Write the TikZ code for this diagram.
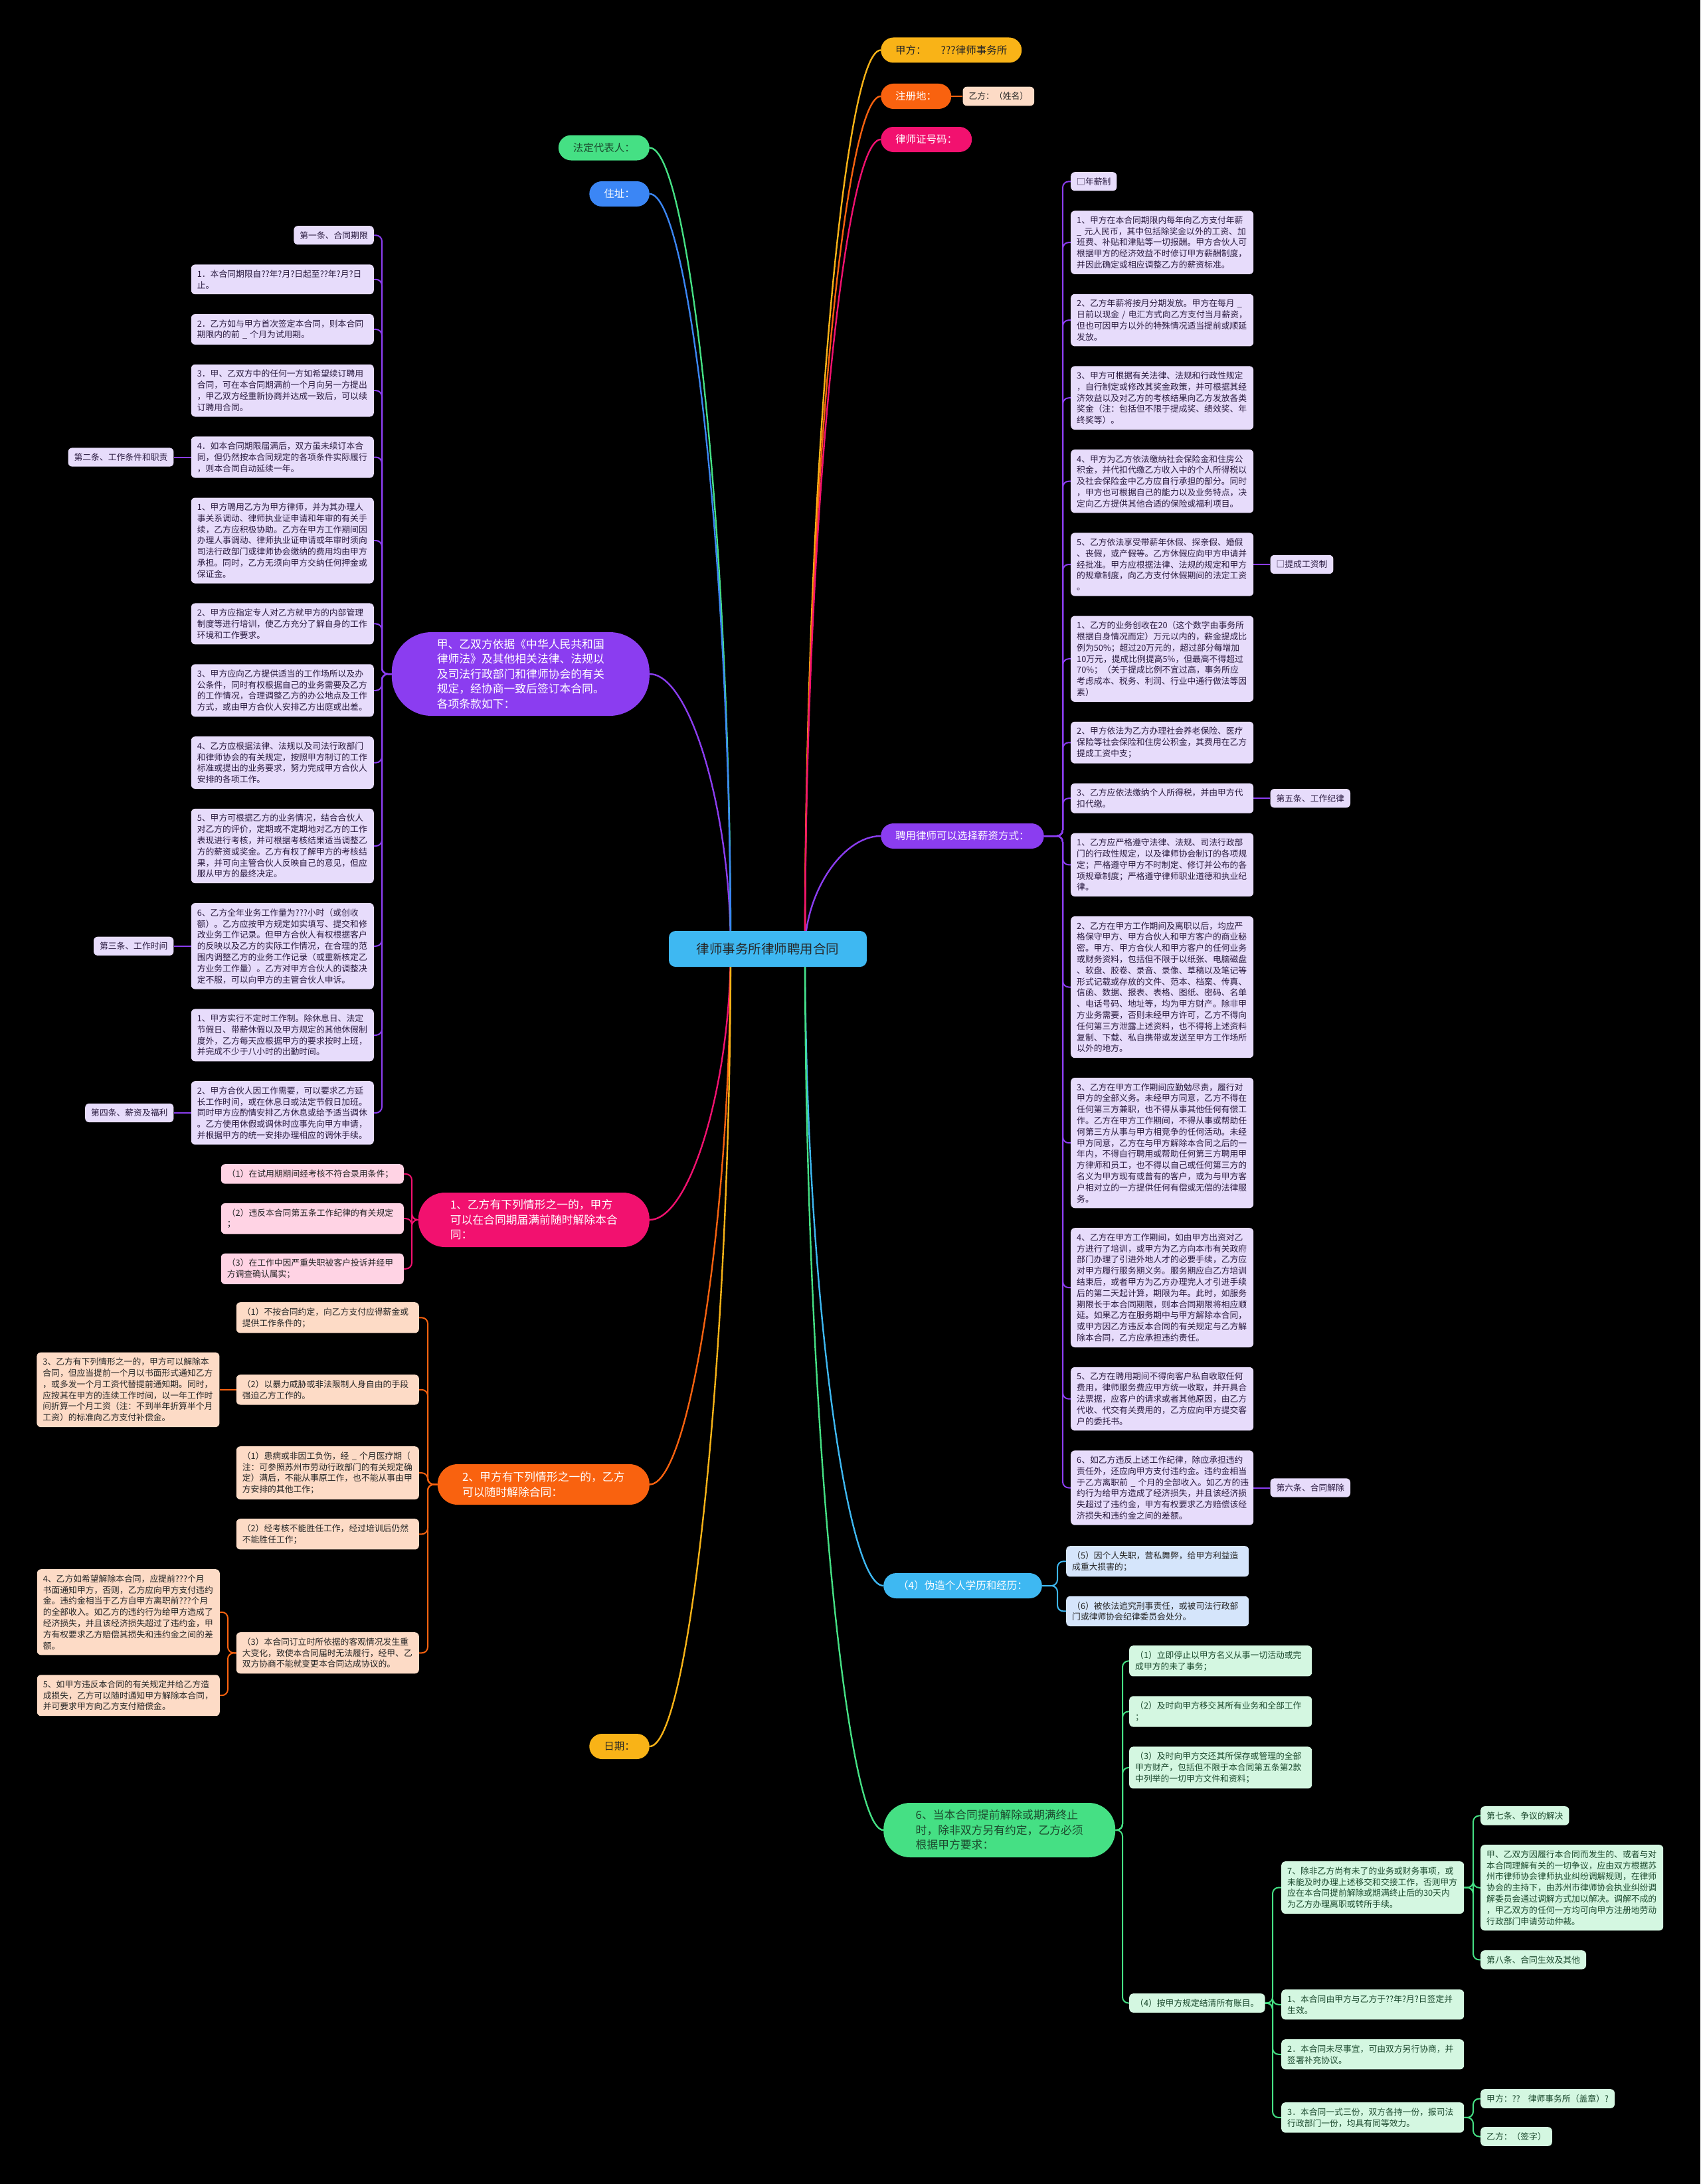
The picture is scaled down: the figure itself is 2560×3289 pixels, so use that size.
\documentclass[tikz,border=0pt]{standalone}
\usepackage{fontspec}
\setmainfont{Noto Sans CJK SC}
\usetikzlibrary{positioning,calc,backgrounds}
\definecolor{cpurple}{HTML}{8B3DF0}
\definecolor{plite}{HTML}{E7DCFB}
\definecolor{ptext}{HTML}{2A1B40}
\definecolor{cpink}{HTML}{F2116F}
\definecolor{pklite}{HTML}{FFD3E4}
\definecolor{corange}{HTML}{F9620F}
\definecolor{olite}{HTML}{FDDBC6}
\definecolor{cyellow}{HTML}{F9B317}
\definecolor{cgreen}{HTML}{45E084}
\definecolor{glite}{HTML}{D4F7E1}
\definecolor{gtext}{HTML}{1C4A2E}
\definecolor{cblue}{HTML}{3B86F5}
\definecolor{csky}{HTML}{3EB8F2}
\definecolor{blite}{HTML}{D5E5FB}
\definecolor{dtext}{HTML}{262626}

\begin{document}
\begin{tikzpicture}[
  x=1pt,y=-1pt,
  font=\fontsize{12.8}{16.8}\selectfont,
  box/.style={rounded corners=6pt,align=left,text width=257pt,inner xsep=9pt,inner ysep=8.2pt},
  short/.style={rounded corners=6pt,inner xsep=9pt,inner ysep=8.2pt},
  pbox/.style={box,fill=plite,text=ptext},
  ps/.style={short,fill=plite,text=ptext},
  kbox/.style={box,fill=pklite,text=dtext},
  obox/.style={box,fill=olite,text=dtext},
  os/.style={short,fill=olite,text=dtext},
  skybox/.style={box,fill=blite,text=dtext},
  gbox/.style={box,fill=glite,text=gtext},
  gs/.style={short,fill=glite,text=gtext},
  topic/.style={rounded corners=19pt,minimum height=38pt,inner xsep=22pt,font=\fontsize{15.5}{19}\selectfont},
  bigtopic/.style={align=left,font=\fontsize{16.8}{22.5}\selectfont},
  root/.style={fill=csky,text=dtext,rounded corners=10pt,minimum width=298pt,minimum height=54pt,font=\fontsize{19.5}{23}\selectfont},
  link/.style={line width=2.4pt},
  tree/.style={line width=2pt,rounded corners=9pt},
]
\useasboundingbox (0,0) rectangle (2560,3289);

% root and first level
\node[root] (root) at (1156,1429) {律师事务所律师聘用合同};
\node[topic,fill=cyellow,text=dtext,anchor=west] (firm) at (1326,75.5) {甲方：\hspace{22pt}???律师事务所};
\node[topic,fill=corange,text=white,anchor=west] (reg) at (1326,145) {注册地：};
\node[os,right=17pt of reg] (pname) {乙方：（姓名）};
\node[topic,fill=cpink,text=white,anchor=west] (lic) at (1326,210) {律师证号码：};
\node[topic,fill=cgreen,text=gtext,anchor=east] (legal) at (978,222.5) {法定代表人：};
\node[topic,fill=cblue,text=white,anchor=east] (addr) at (978,292) {住址：};
\node[topic,fill=cyellow,text=dtext,anchor=east] (date) at (978,2630) {日期：};
\node[topic,fill=cpurple,text=white,anchor=west] (rp) at (1326,1259) {聘用律师可以选择薪资方式：};
\node[topic,fill=csky,text=white,anchor=west] (bp) at (1330,2388) {（4）伪造个人学历和经历：};
\node[bigtopic,fill=cpurple,text=white,anchor=east,rounded corners=60pt,minimum width=388pt,minimum height=126pt] (lp) at (978,1015)
  {甲、乙双方依据《中华人民共和国\\律师法》及其他相关法律、法规以\\及司法行政部门和律师协会的有关\\规定，经协商一致后签订本合同。\\各项条款如下：};
\node[bigtopic,fill=cpink,text=white,anchor=east,rounded corners=40pt,minimum width=348pt,minimum height=82pt] (kp) at (978,1837)
  {1、乙方有下列情形之一的，甲方\\可以在合同期届满前随时解除本合\\同：};
\node[bigtopic,fill=corange,text=white,anchor=east,rounded corners=30pt,minimum width=319pt,minimum height=61pt] (ko) at (978,2235.5)
  {2、甲方有下列情形之一的，乙方\\可以随时解除合同：};
\node[bigtopic,fill=cgreen,text=gtext,anchor=west,rounded corners=40pt,minimum width=349pt,minimum height=82pt] (gp) at (1330,2756)
  {6、当本合同提前解除或期满终止\\时，除非双方另有约定，乙方必须\\根据甲方要求：};

% left purple column
\node[ps,anchor=north east] (p0) at (563,340) {第一条、合同期限};
\node[pbox,below=29.5pt of p0.south east,anchor=north east] (p1) {1．本合同期限自??年?月?日起至??年?月?日\\止。};
\node[pbox,below=29.5pt of p1.south east,anchor=north east] (p2) {2．乙方如与甲方首次签定本合同，则本合同\\期限内的前~\_~个月为试用期。};
\node[pbox,below=29.5pt of p2.south east,anchor=north east] (p3) {3．甲、乙双方中的任何一方如希望续订聘用\\合同，可在本合同期满前一个月向另一方提出\\，甲乙双方经重新协商并达成一致后，可以续\\订聘用合同。};
\node[pbox,below=29.5pt of p3.south east,anchor=north east] (p4) {4．如本合同期限届满后，双方虽未续订本合\\同，但仍然按本合同规定的各项条件实际履行\\，则本合同自动延续一年。};
\node[pbox,below=29.5pt of p4.south east,anchor=north east] (p5) {1、甲方聘用乙方为甲方律师，并为其办理人\\事关系调动、律师执业证申请和年审的有关手\\续，乙方应积极协助。乙方在甲方工作期间因\\办理人事调动、律师执业证申请或年审时须向\\司法行政部门或律师协会缴纳的费用均由甲方\\承担。同时，乙方无须向甲方交纳任何押金或\\保证金。};
\node[pbox,below=29.5pt of p5.south east,anchor=north east] (p6) {2、甲方应指定专人对乙方就甲方的内部管理\\制度等进行培训，使乙方充分了解自身的工作\\环境和工作要求。};
\node[pbox,below=29.5pt of p6.south east,anchor=north east] (p7) {3、甲方应向乙方提供适当的工作场所以及办\\公条件，同时有权根据自己的业务需要及乙方\\的工作情况，合理调整乙方的办公地点及工作\\方式，或由甲方合伙人安排乙方出庭或出差。};
\node[pbox,below=29.5pt of p7.south east,anchor=north east] (p8) {4、乙方应根据法律、法规以及司法行政部门\\和律师协会的有关规定，按照甲方制订的工作\\标准或提出的业务要求，努力完成甲方合伙人\\安排的各项工作。};
\node[pbox,below=29.5pt of p8.south east,anchor=north east] (p9) {5、甲方可根据乙方的业务情况，结合合伙人\\对乙方的评价，定期或不定期地对乙方的工作\\表现进行考核，并可根据考核结果适当调整乙\\方的薪资或奖金。乙方有权了解甲方的考核结\\果，并可向主管合伙人反映自己的意见，但应\\服从甲方的最终决定。};
\node[pbox,below=29.5pt of p9.south east,anchor=north east] (p10) {6、乙方全年业务工作量为???小时（或创收\\额）。乙方应按甲方规定如实填写、提交和修\\改业务工作记录。但甲方合伙人有权根据客户\\的反映以及乙方的实际工作情况，在合理的范\\围内调整乙方的业务工作记录（或重新核定乙\\方业务工作量）。乙方对甲方合伙人的调整决\\定不服，可以向甲方的主管合伙人申诉。};
\node[pbox,below=29.5pt of p10.south east,anchor=north east] (p11) {1、甲方实行不定时工作制。除休息日、法定\\节假日、带薪休假以及甲方规定的其他休假制\\度外，乙方每天应根据甲方的要求按时上班，\\并完成不少于八小时的出勤时间。};
\node[pbox,below=29.5pt of p11.south east,anchor=north east] (p12) {2、甲方合伙人因工作需要，可以要求乙方延\\长工作时间，或在休息日或法定节假日加班。\\同时甲方应酌情安排乙方休息或给予适当调休\\。乙方使用休假或调休时应事先向甲方申请，\\并根据甲方的统一安排办理相应的调休手续。};
\node[ps,left=26pt of p4] (t2) {第二条、工作条件和职责};
\node[ps,left=26pt of p10] (t3) {第三条、工作时间};
\node[ps,left=26pt of p12] (t4) {第四条、薪资及福利};

% pink
\node[kbox,anchor=north east] (k1) at (608,1753) {（1）在试用期期间经考核不符合录用条件；};
\node[kbox,below=29pt of k1.south east,anchor=north east] (k2) {（2）违反本合同第五条工作纪律的有关规定\\；};
\node[kbox,below=29pt of k2.south east,anchor=north east] (k3) {（3）在工作中因严重失职被客户投诉并经甲\\方调查确认属实；};

% orange
\node[obox,anchor=north east] (o1) at (631,1961) {（1）不按合同约定，向乙方支付应得薪金或\\提供工作条件的；};
\node[obox,anchor=north east] (o2) at (631,2070) {（2）以暴力威胁或非法限制人身自由的手段\\强迫乙方工作的。};
\node[obox,anchor=north east] (o3) at (631,2178) {（1）患病或非因工负伤，经~\_~个月医疗期（\\注：可参照苏州市劳动行政部门的有关规定确\\定）满后，不能从事原工作，也不能从事由甲\\方安排的其他工作；};
\node[obox,anchor=north east] (o4) at (631,2287) {（2）经考核不能胜任工作，经过培训后仍然\\不能胜任工作；};
\node[obox,anchor=north east] (o5) at (631,2458) {（3）本合同订立时所依据的客观情况发生重\\大变化，致使本合同届时无法履行，经甲、乙\\双方协商不能就变更本合同达成协议的。};
\node[obox,left=25pt of o2] (oa) {3、乙方有下列情形之一的，甲方可以解除本\\合同，但应当提前一个月以书面形式通知乙方\\，或多发一个月工资代替提前通知期。同时，\\应按其在甲方的连续工作时间，以一年工作时\\间折算一个月工资（注：不到半年折算半个月\\工资）的标准向乙方支付补偿金。};
\node[obox,anchor=north east] (ob) at (331,2363) {4、乙方如希望解除本合同，应提前???个月\\书面通知甲方，否则，乙方应向甲方支付违约\\金。违约金相当于乙方自甲方离职前???个月\\的全部收入。如乙方的违约行为给甲方造成了\\经济损失，并且该经济损失超过了违约金，甲\\方有权要求乙方赔偿其损失和违约金之间的差\\额。};
\node[obox,below=29.5pt of ob.south east,anchor=north east] (oc) {5、如甲方违反本合同的有关规定并给乙方造\\成损失，乙方可以随时通知甲方解除本合同，\\并可要求甲方向乙方支付赔偿金。};

% right purple column
\node[ps,anchor=north west] (r0) at (1612,259) {□年薪制};
\node[pbox,below=29.5pt of r0.south west,anchor=north west] (r1) {1、甲方在本合同期限内每年向乙方支付年薪\\\_~元人民币，其中包括除奖金以外的工资、加\\班费、补贴和津贴等一切报酬。甲方合伙人可\\根据甲方的经济效益不时修订甲方薪酬制度，\\并因此确定或相应调整乙方的薪资标准。};
\node[pbox,below=29.5pt of r1.south west,anchor=north west] (r2) {2、乙方年薪将按月分期发放。甲方在每月~\_\\日前以现金~/~电汇方式向乙方支付当月薪资，\\但也可因甲方以外的特殊情况适当提前或顺延\\发放。};
\node[pbox,below=29.5pt of r2.south west,anchor=north west] (r3) {3、甲方可根据有关法律、法规和行政性规定\\，自行制定或修改其奖金政策，并可根据其经\\济效益以及对乙方的考核结果向乙方发放各类\\奖金（注：包括但不限于提成奖、绩效奖、年\\终奖等）。};
\node[pbox,below=29.5pt of r3.south west,anchor=north west] (r4) {4、甲方为乙方依法缴纳社会保险金和住房公\\积金，并代扣代缴乙方收入中的个人所得税以\\及社会保险金中乙方应自行承担的部分。同时\\，甲方也可根据自己的能力以及业务特点，决\\定向乙方提供其他合适的保险或福利项目。};
\node[pbox,below=29.5pt of r4.south west,anchor=north west] (r5) {5、乙方依法享受带薪年休假、探亲假、婚假\\、丧假，或产假等。乙方休假应向甲方申请并\\经批准。甲方应根据法律、法规的规定和甲方\\的规章制度，向乙方支付休假期间的法定工资\\。};
\node[pbox,below=29.5pt of r5.south west,anchor=north west] (r6) {1、乙方的业务创收在20（这个数字由事务所\\根据自身情况而定）万元以内的，薪金提成比\\例为50\%；超过20万元的，超过部分每增加\\10万元，提成比例提高5\%，但最高不得超过\\70\%；（关于提成比例不宜过高，事务所应\\考虑成本、税务、利润、行业中通行做法等因\\素）};
\node[pbox,below=29.5pt of r6.south west,anchor=north west] (r7) {2、甲方依法为乙方办理社会养老保险、医疗\\保险等社会保险和住房公积金，其费用在乙方\\提成工资中支；};
\node[pbox,below=29.5pt of r7.south west,anchor=north west] (r8) {3、乙方应依法缴纳个人所得税，并由甲方代\\扣代缴。};
\node[pbox,below=29.5pt of r8.south west,anchor=north west] (r9) {1、乙方应严格遵守法律、法规、司法行政部\\门的行政性规定，以及律师协会制订的各项规\\定；严格遵守甲方不时制定、修订并公布的各\\项规章制度；严格遵守律师职业道德和执业纪\\律。};
\node[pbox,below=29.5pt of r9.south west,anchor=north west] (r10) {2、乙方在甲方工作期间及离职以后，均应严\\格保守甲方、甲方合伙人和甲方客户的商业秘\\密。甲方、甲方合伙人和甲方客户的任何业务\\或财务资料，包括但不限于以纸张、电脑磁盘\\、软盘、胶卷、录音、录像、草稿以及笔记等\\形式记载或存放的文件、范本、档案、传真、\\信函、数据、报表、表格、图纸、密码、名单\\、电话号码、地址等，均为甲方财产。除非甲\\方业务需要，否则未经甲方许可，乙方不得向\\任何第三方泄露上述资料，也不得将上述资料\\复制、下载、私自携带或发送至甲方工作场所\\以外的地方。};
\node[pbox,below=29.5pt of r10.south west,anchor=north west] (r11) {3、乙方在甲方工作期间应勤勉尽责，履行对\\甲方的全部义务。未经甲方同意，乙方不得在\\任何第三方兼职，也不得从事其他任何有偿工\\作。乙方在甲方工作期间，不得从事或帮助任\\何第三方从事与甲方相竞争的任何活动。未经\\甲方同意，乙方在与甲方解除本合同之后的一\\年内，不得自行聘用或帮助任何第三方聘用甲\\方律师和员工，也不得以自己或任何第三方的\\名义为甲方现有或曾有的客户，或为与甲方客\\户相对立的一方提供任何有偿或无偿的法律服\\务。};
\node[pbox,below=29.5pt of r11.south west,anchor=north west] (r12) {4、乙方在甲方工作期间，如由甲方出资对乙\\方进行了培训，或甲方为乙方向本市有关政府\\部门办理了引进外地人才的必要手续，乙方应\\对甲方履行服务期义务。服务期应自乙方培训\\结束后，或者甲方为乙方办理完人才引进手续\\后的第二天起计算，期限为年。此时，如服务\\期限长于本合同期限，则本合同期限将相应顺\\延。如果乙方在服务期中与甲方解除本合同，\\或甲方因乙方违反本合同的有关规定与乙方解\\除本合同，乙方应承担违约责任。};
\node[pbox,below=29.5pt of r12.south west,anchor=north west] (r13) {5、乙方在聘用期间不得向客户私自收取任何\\费用，律师服务费应甲方统一收取，并开具合\\法票据，应客户的请求或者其他原因，由乙方\\代收、代交有关费用的，乙方应向甲方提交客\\户的委托书。};
\node[pbox,below=29.5pt of r13.south west,anchor=north west] (r14) {6、如乙方违反上述工作纪律，除应承担违约\\责任外，还应向甲方支付违约金。违约金相当\\于乙方离职前~\_~个月的全部收入。如乙方的违\\约行为给甲方造成了经济损失，并且该经济损\\失超过了违约金，甲方有权要求乙方赔偿该经\\济损失和违约金之间的差额。};
\node[ps,right=25pt of r5] (s1) {□提成工资制};
\node[ps,right=25pt of r8] (s2) {第五条、工作纪律};
\node[ps,right=25pt of r14] (s3) {第六条、合同解除};

% blue
\node[skybox,anchor=north west] (b5) at (1605,2328) {（5）因个人失职，营私舞弊，给甲方利益造\\成重大损害的；};
\node[skybox,below=29pt of b5.south west,anchor=north west] (b6) {（6）被依法追究刑事责任，或被司法行政部\\门或律师协会纪律委员会处分。};

% green
\node[gbox,anchor=north west] (g1) at (1700,2478) {（1）立即停止以甲方名义从事一切活动或完\\成甲方的未了事务；};
\node[gbox,below=29.5pt of g1.south west,anchor=north west] (g2) {（2）及时向甲方移交其所有业务和全部工作\\；};
\node[gbox,below=29.5pt of g2.south west,anchor=north west] (g3) {（3）及时向甲方交还其所保存或管理的全部\\甲方财产，包括但不限于本合同第五条第2款\\中列举的一切甲方文件和资料；};
\node[gs,anchor=north west] (g4) at (1700,3002) {（4）按甲方规定结清所有账目。};
\node[gbox,anchor=north west] (ga) at (1929,2803) {7、除非乙方尚有未了的业务或财务事项，或\\未能及时办理上述移交和交接工作，否则甲方\\应在本合同提前解除或期满终止后的30天内\\为乙方办理离职或转所手续。};
\node[gbox,anchor=north west] (gb) at (1929,2996) {1、本合同由甲方与乙方于??年?月?日签定并\\生效。};
\node[gbox,anchor=north west] (gc) at (1929,3071) {2．本合同未尽事宜，可由双方另行协商，并\\签署补充协议。};
\node[gbox,anchor=north west] (gd) at (1929,3166) {3．本合同一式三份，双方各持一份，报司法\\行政部门一份，均具有同等效力。};
\node[gs,anchor=north west] (g7) at (2229,2720) {第七条、争议的解决};
\node[gbox,anchor=north west] (ge) at (2229,2778) {甲、乙双方因履行本合同而发生的、或者与对\\本合同理解有关的一切争议，应由双方根据苏\\州市律师协会律师执业纠纷调解规则，在律师\\协会的主持下，由苏州市律师协会执业纠纷调\\解委员会通过调解方式加以解决。调解不成的\\，甲乙双方的任何一方均可向甲方注册地劳动\\行政部门申请劳动仲裁。};
\node[gs,anchor=north west] (g8) at (2229,2937) {第八条、合同生效及其他};
\node[gs,anchor=north west] (gj) at (2229,3146) {甲方：??\hspace{12pt}律师事务所（盖章）?};
\node[gs,anchor=north west] (gy) at (2229,3203) {乙方：（签字）};

\coordinate (sl) at (1100,1429);
\coordinate (sr) at (1212,1429);
\coordinate (tl) at (575,0);
\coordinate (tk) at (620,0);
\coordinate (to) at (644,0);
\coordinate (toa) at (343,0);
\coordinate (tr) at (1600,0);
\coordinate (tb) at (1592,0);
\coordinate (tg) at (1690,0);
\coordinate (tg2) at (1916,0);
\coordinate (tg3) at (2218,0);

\begin{pgfonlayer}{background}
\fill[black] (0,0) rectangle (2560,3289);
% links from the root
\foreach \t/\c in {lp.east/cpurple,legal.east/cgreen,addr.east/cblue,kp.east/cpink,ko.east/corange,date.east/cyellow}
  \draw[link,\c] (sl) .. controls ($(sl)!0.5!(sl |- \t)$) and ($(\t)!0.5!(sl |- \t)$) .. (\t);
\foreach \t/\c in {firm.west/cyellow,reg.west/corange,lic.west/cpink,rp.west/cpurple,bp.west/csky,gp.west/cgreen}
  \draw[link,\c] (sr) .. controls ($(sr)!0.5!(sr |- \t)$) and ($(\t)!0.5!(sr |- \t)$) .. (\t);
\draw[tree,corange] (reg.east) -- (pname.west);
% branches
\foreach \c in {p0,p1,p2,p3,p4,p5,p6,p7,p8,p9,p10,p11,p12}
  \draw[tree,cpurple] (lp.west) -| (\c.east -| tl) -- (\c.east);
\foreach \a/\b in {p4/t2,p10/t3,p12/t4}
  \draw[tree,cpurple] (\a.west) -- (\b.east);
\foreach \c in {k1,k2,k3}
  \draw[tree,cpink] (kp.west) -| (\c.east -| tk) -- (\c.east);
\foreach \c in {o1,o2,o3,o4,o5}
  \draw[tree,corange] (ko.west) -| (\c.east -| to) -- (\c.east);
\draw[tree,corange] (o2.west) -- (oa.east);
\foreach \c in {ob,oc}
  \draw[tree,corange] (o5.west) -| (\c.east -| toa) -- (\c.east);
\foreach \c in {r0,r1,r2,r3,r4,r5,r6,r7,r8,r9,r10,r11,r12,r13,r14}
  \draw[tree,cpurple] (rp.east) -| (\c.west -| tr) -- (\c.west);
\foreach \a/\b in {r5/s1,r8/s2,r14/s3}
  \draw[tree,cpurple] (\a.east) -- (\b.west);
\foreach \c in {b5,b6}
  \draw[tree,csky] (bp.east) -| (\c.west -| tb) -- (\c.west);
\foreach \c in {g1,g2,g3,g4}
  \draw[tree,cgreen] (gp.east) -| (\c.west -| tg) -- (\c.west);
\foreach \c in {ga,gb,gc,gd}
  \draw[tree,cgreen] (g4.east) -| (\c.west -| tg2) -- (\c.west);
\foreach \c in {g7,ge,g8}
  \draw[tree,cgreen] (ga.east) -| (\c.west -| tg3) -- (\c.west);
\foreach \c in {gj,gy}
  \draw[tree,cgreen] (gd.east) -| (\c.west -| tg3) -- (\c.west);
\end{pgfonlayer}
\end{tikzpicture}
\end{document}
